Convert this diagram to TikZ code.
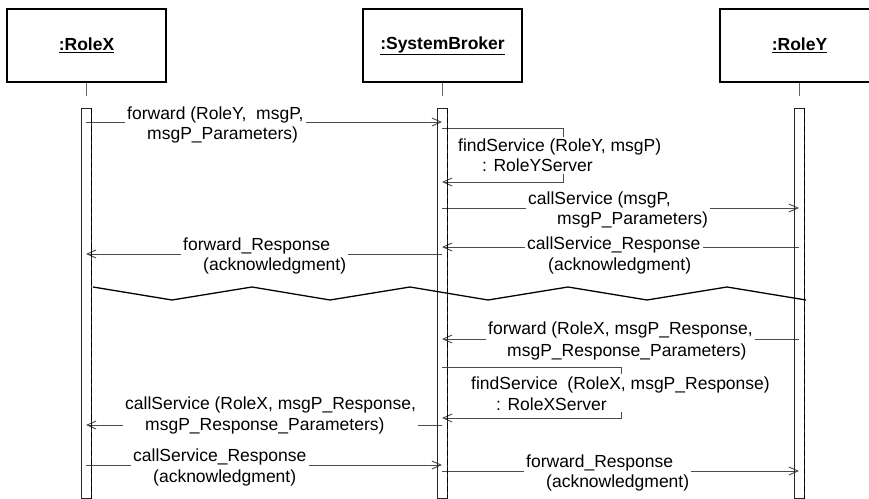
\documentclass[tikz,border=0pt]{standalone}
\usepackage{fontspec}
\setmainfont{Liberation Sans}
\usetikzlibrary{arrows.meta,fit}
\pgfdeclarelayer{lines}
\pgfdeclarelayer{cover}
\pgfsetlayers{lines,cover,main}
\newcommand\mlab[7]{%
  \node[lbl] (#1a) at (#2,#3) {#4};
  \node[lbl] (#1b) at (#5,#6) {#7};
  \begin{pgfonlayer}{cover}
    \node[coverbox,fit=(#1a)(#1b)] (#1c) {};
  \end{pgfonlayer}}
\begin{document}
\begin{tikzpicture}[x=1bp,y=-1bp,
  font=\fontsize{17.5bp}{20bp}\selectfont,
  lbl/.style={anchor=base west,inner sep=0pt},
  coverbox/.style={fill=white,draw=none,inner sep=2bp},
  plainline/.style={draw=black!70,line width=0.9bp},
  msg/.style={plainline,-{Straight Barb[length=9bp,width=8bp,line width=0.9bp]}},
  objbox/.style={draw=black,line width=1.6bp,minimum width=159bp,minimum height=73bp,inner sep=0pt,font=\fontsize{17.5bp}{20bp}\selectfont\bfseries},
  stub/.style={draw=black!60,line width=0.9bp},
  actbar/.style={draw=black!85,line width=0.8bp,minimum width=10bp,minimum height=390bp,inner sep=0pt,anchor=north},
  lifedash/.style={draw=black,line width=1bp,dash pattern=on 6bp off 3bp},
  zig/.style={draw=black,line width=1.3bp}]
\useasboundingbox (0,0) rectangle (869,499);
\clip (0,0) rectangle (869,499);

% objects
\node[objbox] (bx) at (86.5,45.5) {\underline{:RoleX}};
\node[objbox] (bb) at (442.5,45.5) {\underline{:SystemBroker}};
\node[objbox] (by) at (799.5,45.5) {\underline{:RoleY}};

\coordinate (sx) at (86.5,96);
\coordinate (sb) at (442.5,96);
\coordinate (sy) at (799.5,96);
\draw[stub] (bx.south) -- (sx);
\draw[stub] (bb.south) -- (sb);
\draw[stub] (by.south) -- (sy);

% activation bars
\node[actbar] (barX) at (86,108) {};
\node[actbar] (barB) at (442,108) {};
\node[actbar] (barY) at (799,108) {};
\draw[lifedash] (barX.north east) -- (barX.south east);
\draw[lifedash] (barB.north east) -- (barB.south east);
\draw[lifedash] (barY.north east) -- (barY.south east);

% message end points
\coordinate (m1a) at (86,122);   \coordinate (m1b) at (442,122);
\coordinate (m2a) at (442,128);  \coordinate (m2b) at (563,128);
\coordinate (m2c) at (563,182);  \coordinate (m2d) at (442,182);
\coordinate (m3a) at (442,208);  \coordinate (m3b) at (799,208);
\coordinate (m4a) at (799,247);  \coordinate (m4b) at (442,247);
\coordinate (m5a) at (442,254);  \coordinate (m5b) at (86,254);
\coordinate (m7a) at (799,339);  \coordinate (m7b) at (442,339);
\coordinate (m8a) at (442,367);  \coordinate (m8b) at (621,367);
\coordinate (m8c) at (621,418);  \coordinate (m8d) at (442,418);
\coordinate (m9a) at (442,425);  \coordinate (m9b) at (86,425);
\coordinate (m10a) at (86,465);  \coordinate (m10b) at (442,465);
\coordinate (m11a) at (442,471); \coordinate (m11b) at (799,471);

\begin{pgfonlayer}{lines}
\draw[msg] (m1a) -- (m1b);
\draw[msg] (m2a) -- (m2b) -- (m2c) -- (m2d);
\draw[msg] (m3a) -- (m3b);
\draw[msg] (m4a) -- (m4b);
\draw[msg] (m5a) -- (m5b);
\draw[msg] (m7a) -- (m7b);
\draw[msg] (m8a) -- (m8b) -- (m8c) -- (m8d);
\draw[msg] (m9a) -- (m9b);
\draw[msg] (m10a) -- (m10b);
\draw[msg] (m11a) -- (m11b);
\end{pgfonlayer}

% labels
\mlab{t1}{127}{120}{forward (RoleY,\ \ msgP,}{147}{140}{msgP\_Parameters)}
\mlab{t2}{458}{152}{findService (RoleY, msgP)}{482}{172}{: RoleYServer}
\mlab{t3}{528}{205}{callService (msgP,}{557}{225}{msgP\_Parameters)}
\mlab{t4}{527}{250}{callService\_Response}{548}{271}{(acknowledgment)}
\mlab{t5}{183}{251}{forward\_Response}{203}{271}{(acknowledgment)}
\mlab{t7}{488}{335}{forward (RoleX, msgP\_Response,}{507}{356}{msgP\_Response\_Parameters)}
\mlab{t8}{471}{389}{findService\ \ (RoleX, msgP\_Response)}{496}{410}{: RoleXServer}
\mlab{t9}{125}{409}{callService (RoleX, msgP\_Response,}{145}{430}{msgP\_Response\_Parameters)}
\mlab{t10}{133}{461}{callService\_Response}{153}{482}{(acknowledgment)}
\mlab{t11}{526}{467}{forward\_Response}{546}{487}{(acknowledgment)}

% break line
\draw[zig] (93,287) -- (172,300) -- (252,287) -- (330,300) -- (410,287)
  -- (488,300) -- (568,287) -- (647,300) -- (727,287) -- (806,300);
\end{tikzpicture}
\end{document}
